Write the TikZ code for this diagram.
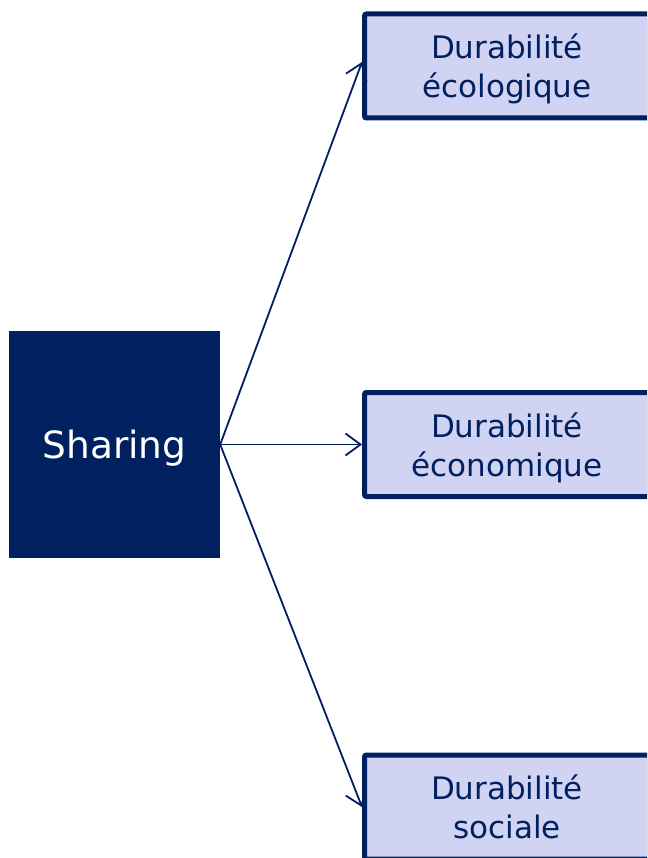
\documentclass[tikz,border=0pt]{standalone}
\usepackage{fontspec}
\setmainfont{DejaVu Sans}
\usetikzlibrary{arrows.meta}
\definecolor{navy}{RGB}{0,32,96}
\definecolor{lav}{RGB}{209,211,242}
\tikzset{
  srcbox/.style={fill=navy, text=white, minimum width=211pt, minimum height=227pt, inner sep=0pt, text depth=0pt, font=\fontsize{37.5}{44}\selectfont},
  dbox/.style={draw=navy, line width=5pt, rounded corners=2pt, fill=lav, text=navy, minimum width=285pt, minimum height=104pt, inner sep=0pt, align=center, text depth=0pt, font=\fontsize{31}{39}\selectfont},
  conn/.style={draw=navy, line width=1.8pt, -{Straight Barb[length=15pt,width=22pt,line width=1.8pt]}}
}
\begin{document}
\begin{tikzpicture}[x=1pt,y=-1pt]
\useasboundingbox (0,0) rectangle (647,858);
\clip (0,0) rectangle (647,858);
\node[srcbox] (s) at (114.5,444.5) {Sharing};
\node[dbox] (a) at (507,66) {Durabilité\\écologique};
\node[dbox] (b) at (507,444.5) {Durabilité\\économique};
\node[dbox] (c) at (507,807) {Durabilité\\sociale};
\coordinate (sa) at (s.east);
\draw[conn] (sa) -- ([yshift=4pt]a.west);
\draw[conn] (sa) -- (b.west);
\draw[conn] (sa) -- (c.west);
\end{tikzpicture}
\end{document}
